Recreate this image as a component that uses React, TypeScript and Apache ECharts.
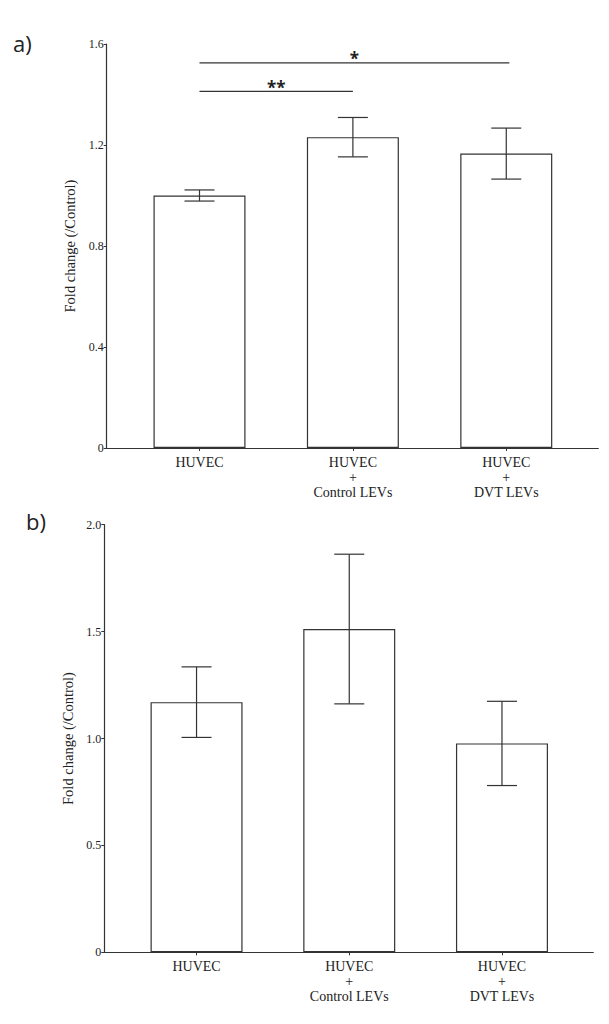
import React, { useEffect, useRef } from "react";
import * as echarts from "echarts";

const categories = ["HUVEC", "HUVEC\n+\nControl LEVs", "HUVEC\n+\nDVT LEVs"];
const categoryPositions = [0, 1, 2];

// Panel a
const meansA = [1.0, 1.231, 1.166];
const errorsA = [0.022, 0.078, 0.101];
const yMaxA = 1.6;
const yIntervalA = 0.4;
const sigA = [
  { from: 0, to: 2.02, y: 1.525, label: "*" },
  { from: 0, to: 1, y: 1.412, label: "**" },
];

// Panel b
const meansB = [1.17, 1.512, 0.977];
const errorsB = [0.165, 0.35, 0.197];
const yMaxB = 2.0;
const yIntervalB = 0.5;

const yAxisName = "Fold change (/Control)";
const panelLabels = ["a)", "b)"];

const SERIF = "'Liberation Serif', 'Times New Roman', serif";
const INK = "#333333";
const TEXT = "#222222";

function errorBarRender(params: any, api: any) {
  const x = api.value(0);
  const lo = api.coord([x, api.value(1)]);
  const hi = api.coord([x, api.value(2)]);
  const half = 15;
  const style = { stroke: INK, lineWidth: 1.2 };
  return {
    type: "group",
    children: [
      { type: "line", shape: { x1: hi[0], y1: hi[1], x2: lo[0], y2: lo[1] }, style },
      { type: "line", shape: { x1: hi[0] - half, y1: hi[1], x2: hi[0] + half, y2: hi[1] }, style },
      { type: "line", shape: { x1: lo[0] - half, y1: lo[1], x2: lo[0] + half, y2: lo[1] }, style },
    ],
  };
}

function sigRender(params: any, api: any) {
  const s = sigA[params.dataIndex];
  const p1 = api.coord([s.from, s.y]);
  const p2 = api.coord([s.to, s.y]);
  return {
    type: "group",
    children: [
      { type: "line", shape: { x1: p1[0], y1: p1[1], x2: p2[0], y2: p2[1] }, style: { stroke: INK, lineWidth: 1.3 } },
      {
        type: "text",
        x: (p1[0] + p2[0]) / 2,
        y: p1[1] - 4,
        style: {
          text: s.label,
          fill: TEXT,
          font: "bold 17px 'Open Sans', 'Noto Sans', sans-serif",
          align: "center",
          verticalAlign: "middle",
        },
      },
    ],
  };
}

function xAxisCfg(gridIndex: number, min: number, max: number) {
  return {
    type: "value",
    gridIndex,
    min,
    max,
    axisLine: { show: true, onZero: false, lineStyle: { color: INK, width: 1.2 } },
    axisTick: { show: true, length: 3, customValues: categoryPositions, lineStyle: { color: INK } },
    axisLabel: {
      show: true,
      customValues: categoryPositions,
      formatter: (v: number) => categories[Math.round(v)] ?? "",
      fontFamily: SERIF,
      fontSize: 14,
      lineHeight: 15,
      color: TEXT,
      margin: 7,
    },
    splitLine: { show: false },
  };
}

function yAxisCfg(gridIndex: number, max: number, interval: number) {
  return {
    type: "value",
    gridIndex,
    min: 0,
    max,
    interval,
    name: yAxisName,
    nameLocation: "middle",
    nameGap: 22,
    nameTextStyle: { fontFamily: SERIF, fontSize: 14.5, color: TEXT },
    axisLine: { show: true, onZero: false, lineStyle: { color: INK, width: 1.2 } },
    axisTick: { show: true, length: 3, lineStyle: { color: INK } },
    axisLabel: {
      fontFamily: SERIF,
      fontSize: 12,
      color: TEXT,
      margin: 3,
      formatter: (v: number) => (v === 0 ? "0" : v.toFixed(1)),
    },
    splitLine: { show: false },
  };
}

export default function App() {
  const ref = useRef<HTMLDivElement>(null);
  useEffect(() => {
    if (!ref.current) return;
    const chart = echarts.init(ref.current, undefined, { renderer: "svg" });
    const barStyle = { color: "#ffffff", borderColor: INK, borderWidth: 1.2 };
    chart.setOption({
      animation: false,
      backgroundColor: "#ffffff",
      grid: [
        { left: 106.7, top: 44, width: 491.6, height: 404 },
        { left: 104.3, top: 524.7, width: 489, height: 427.6 },
      ],
      xAxis: [xAxisCfg(0, -0.605, 2.6), xAxisCfg(1, -0.604, 2.598)],
      yAxis: [yAxisCfg(0, yMaxA, yIntervalA), yAxisCfg(1, yMaxB, yIntervalB)],
      graphic: [
        {
          type: "text",
          left: 13,
          top: 32,
          style: { text: panelLabels[0], font: "22px 'Open Sans', 'Noto Sans', sans-serif", fill: TEXT },
        },
        {
          type: "text",
          left: 26,
          top: 510,
          style: { text: panelLabels[1], font: "22px 'Open Sans', 'Noto Sans', sans-serif", fill: TEXT },
        },
      ],
      series: [
        {
          type: "bar",
          xAxisIndex: 0,
          yAxisIndex: 0,
          barWidth: 92,
          data: meansA.map((m, i) => [categoryPositions[i], m]),
          itemStyle: barStyle,
        },
        {
          type: "custom",
          xAxisIndex: 0,
          yAxisIndex: 0,
          renderItem: errorBarRender,
          encode: { x: 0, y: [1, 2] },
          data: meansA.map((m, i) => [categoryPositions[i], m - errorsA[i], m + errorsA[i]]),
          z: 5,
          clip: false,
        },
        {
          type: "custom",
          xAxisIndex: 0,
          yAxisIndex: 0,
          renderItem: sigRender,
          encode: { x: [0, 1], y: 2 },
          data: sigA.map((s) => [s.from, s.to, s.y]),
          z: 5,
          clip: false,
        },
        {
          type: "bar",
          xAxisIndex: 1,
          yAxisIndex: 1,
          barWidth: 92,
          data: meansB.map((m, i) => [categoryPositions[i], m]),
          itemStyle: barStyle,
        },
        {
          type: "custom",
          xAxisIndex: 1,
          yAxisIndex: 1,
          renderItem: errorBarRender,
          encode: { x: 0, y: [1, 2] },
          data: meansB.map((m, i) => [categoryPositions[i], m - errorsB[i], m + errorsB[i]]),
          z: 5,
          clip: false,
        },
      ],
    });
    return () => chart.dispose();
  }, []);
  return (
    <div
      ref={ref}
      style={{ position: "fixed", left: 0, top: 0, width: 609, height: 1024, background: "#fff" }}
    />
  );
}
